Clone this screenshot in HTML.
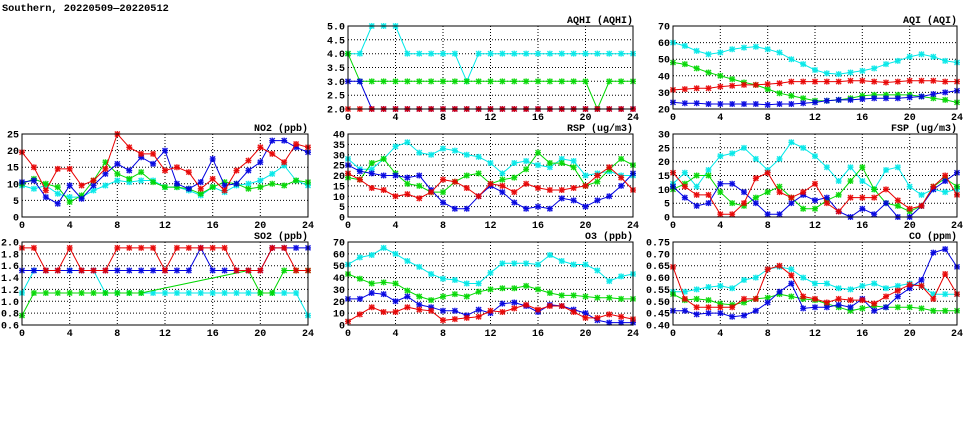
<!DOCTYPE html>
<html><head><meta charset="utf-8"><style>
html,body{margin:0;padding:0;background:#fff;width:975px;height:447px;overflow:hidden}
svg text{font-family:"Liberation Mono",monospace;font-weight:bold;font-size:10px;fill:#000}
</style></head><body>
<svg id="s" width="975" height="447" xmlns="http://www.w3.org/2000/svg">
<text x="2" y="11" style="font-size:10.3px">Southern, 20220509—20220512</text>
</svg>
<script>
const C={c:"#00e8e8",g:"#00d800",b:"#0000e0",r:"#e80000"};
const P=[
{t:"AQHI (AQHI)",x0:348,x1:633,y0:26,y1:109,mn:2,mx:5,st:0.5,f:1,s:{
c:[4,4,5,5,5,4,4,4,4,4,3,4,4,4,4,4,4,4,4,4,4,4,4,4,4],
g:[4,3,3,3,3,3,3,3,3,3,3,3,3,3,3,3,3,3,3,3,3,2,3,3,3],
b:[3,3,2,2,2,2,2,2,2,2,2,2,2,2,2,2,2,2,2,2,2,2,2,2,2],
r:[2,2,2,2,2,2,2,2,2,2,2,2,2,2,2,2,2,2,2,2,2,2,2,2,2]}},
{t:"AQI (AQI)",x0:673,x1:957,y0:26,y1:109,mn:20,mx:70,st:10,f:0,s:{
c:[60,58,55,53,54,56,57,57.5,56,54,50,47,43.5,41.5,41,42,43,44.5,47,49,51.5,53,51.5,49,48],
g:[48,47,44.5,42,40,38,36,34.5,32,29.5,28,26.5,25,25,25.5,26.5,28,28.5,28.5,28.5,28.5,27.5,26.5,25.5,24],
b:[24,23.5,23.5,23,23,23,23,23,22.5,23,23,23.5,24,25,25.5,25.5,26,26.5,26.5,26.5,27,27.5,29,30,31],
r:[31.5,32,32.5,32.5,33.5,34,34.5,34.5,35,35.5,36.5,36.5,36.5,36.5,36.5,37,37,36.5,36,36.5,37,37,37,36.5,36.5]}},
{t:"NO2 (ppb)",x0:22,x1:308,y0:134,y1:217,mn:0,mx:25,st:5,f:0,s:{
c:[9.5,8.5,9.5,7,6,6,8,9.5,11,10.5,11,11,9,9,8,6.5,9,7.5,9.5,10,11,13,15.5,11,9.5],
g:[10,11.5,10,9,4.5,6.5,11,16.5,13,11.5,13.5,10.5,9,9,8.5,7,9,10.5,10,8.5,9,10,9.5,11,10.5],
r:[19.5,15,8,14.5,14.5,9.5,11,14.5,25,21,19,19,14,15,13.5,8.5,11.5,8,14,17,21,19,16.5,22,21],
b:[10.5,11,6,4,9.5,5.5,9.5,13,16,14,18,16,20,10,8.5,10.5,17.5,9.5,10,14,16.5,23,23,21,19.5]}},
{t:"RSP (ug/m3)",x0:348,x1:633,y0:134,y1:217,mn:0,mx:40,st:5,f:0,s:{
c:[28,23,23,28,34,36,31,30,33,32,30,29,26,21,26,27,25,24,28,27,20,21,22,20,20],
g:[19,18,26,28,21,16,15,12,12,17,20,21,16,18,19,23,31,26,26,24,15,17,23,28,25],
b:[25,22,21,20,20,19,20,13,7,4,4,10,15,12,7,4,5,4,9,8,5,8,10,15,21],
r:[21,18,14,13,10,11,9,12,18,17,14,10,16,15,12,16,14,13,13,14,15,20,24,19,13]}},
{t:"FSP (ug/m3)",x0:673,x1:957,y0:134,y1:217,mn:0,mx:30,st:5,f:0,s:{
c:[12,16,11,17,22,23,25,21,17,21,27,25,22,18,13,18,13,10,17,18,11,8,10,9,10],
g:[10,12,15,15,9,5,4,7,9,11,7,3,3,6,8,13,18,10,5,4,2,4,11,14,11],
b:[11,7,4,5,12,12,9,5,1,1,5,8,6,7,2,0,3,1,5,0,0,4,10,13,16],
r:[16,11,8,8,1,1,5,14,16,9,7,9,12,5,2,7,7,7,10,6,3,4,11,15,8]}},
{t:"SO2 (ppb)",x0:22,x1:308,y0:242,y1:325,mn:0.6,mx:2.0,st:0.2,f:1,s:{
c:[1.14,1.52,1.52,1.52,1.52,1.52,1.52,1.14,1.14,1.14,1.14,1.14,1.14,1.14,1.14,1.14,1.14,1.14,1.14,1.14,1.14,1.14,1.14,1.14,0.76],
g:[0.76,1.14,1.14,1.14,1.14,1.14,1.14,1.14,1.14,1.14,1.14,null,null,null,null,null,null,null,null,1.52,1.14,1.14,1.52,1.52,1.52],
b:[1.52,1.52,1.52,1.52,1.52,1.52,1.52,1.52,1.52,1.52,1.52,1.52,1.52,1.52,1.52,1.9,1.52,1.52,1.52,1.52,1.52,1.9,1.9,1.9,1.9],
r:[1.9,1.9,1.52,1.52,1.9,1.52,1.52,1.52,1.9,1.9,1.9,1.9,1.52,1.9,1.9,1.9,1.9,1.9,1.52,1.52,1.52,1.9,1.9,1.52,1.52]}},
{t:"O3 (ppb)",x0:348,x1:633,y0:242,y1:325,mn:0,mx:70,st:10,f:0,s:{
c:[51,57,59,65,60,54,49,43,39,38,35,35,44,52,52,52,51,59,54,51,51,46,37,41,43],
g:[43,39,35,36,35,29,24,21,24,26,24,28,30,31,31,33,30,27,25,25,24,23,23,22,22],
b:[22,22,27,26,20,24,17,15,12,12,8,13,10,18,19,16,11,17,16,13,10,4,2,2,2],
r:[3,9,15,11,11,15,13,12,4,5,6,7,12,11,14,17,13,16,16,11,6,6,9,7,5]}},
{t:"CO (ppm)",x0:673,x1:957,y0:242,y1:325,mn:0.4,mx:0.75,st:0.05,f:2,s:{
c:[0.54,0.54,0.55,0.56,0.565,0.555,0.59,0.6,0.635,0.645,0.635,0.6,0.575,0.575,0.555,0.55,0.565,0.575,0.555,0.565,0.575,0.565,0.53,0.53,0.53],
g:[0.53,0.505,0.51,0.505,0.49,0.485,0.495,0.51,0.515,0.53,0.52,0.51,0.505,0.49,0.475,0.46,0.47,0.48,0.475,0.475,0.475,0.47,0.46,0.46,0.46],
b:[0.46,0.46,0.445,0.45,0.45,0.435,0.44,0.46,0.495,0.54,0.575,0.47,0.475,0.475,0.485,0.475,0.51,0.46,0.475,0.52,0.555,0.59,0.705,0.72,0.645],
r:[0.645,0.51,0.475,0.475,0.475,0.475,0.51,0.51,0.635,0.65,0.61,0.52,0.51,0.495,0.51,0.505,0.505,0.49,0.52,0.545,0.57,0.565,0.51,0.615,0.53]}}
];
let h="";
for(const p of P){
 const X=i=>p.x0+(p.x1-p.x0)*i/24, Y=v=>p.y1-(p.y1-p.y0)*(v-p.mn)/(p.mx-p.mn);
 const n=Math.round((p.mx-p.mn)/p.st);
 for(let k=0;k<=n;k++){const v=p.mn+k*p.st,y=Y(v).toFixed(1);
  if(k>0&&k<n)h+=`<line x1="${p.x0}" x2="${p.x1}" y1="${y}" y2="${y}" stroke="#000" stroke-width="1" stroke-dasharray="1,2"/>`;
  h+=`<text x="${p.x0-3}" y="${(+y+3.5).toFixed(1)}" text-anchor="end">${v.toFixed(p.f)}</text>`;}
 for(let i=0;i<=24;i+=4){const x=X(i).toFixed(1);
  if(i>0&&i<24)h+=`<line x1="${x}" x2="${x}" y1="${p.y0}" y2="${p.y1}" stroke="#000" stroke-dasharray="1,2"/>`;
  h+=`<text x="${x}" y="${p.y1+11}" text-anchor="middle">${i}</text>`;}
 for(const k of ["c","g","b","r"]){const d=p.s[k];let pts=[],mk="";
  d.forEach((v,i)=>{if(v==null)return;const x=X(i),y=Y(v);pts.push(x.toFixed(1)+","+y.toFixed(1));
   mk+=`M${x-2.5},${y-2.5}l5,5M${x-2.5},${y+2.5}l5,-5M${x-3},${y}h6M${x},${y-3}v6`;});
  h+=`<polyline points="${pts.join(" ")}" fill="none" stroke="${C[k]}" stroke-width="1"/>`;
  h+=`<path d="${mk}" stroke="${C[k]}" stroke-width="1.4" opacity="0.9"/>`;}
 h+=`<rect x="${p.x0}" y="${p.y0}" width="${p.x1-p.x0}" height="${p.y1-p.y0}" fill="none" stroke="#000"/>`;
 h+=`<text x="${p.x1}" y="${p.y0-3}" text-anchor="end">${p.t}</text>`;
}
document.getElementById("s").insertAdjacentHTML("beforeend",h);
</script>
</body></html>
